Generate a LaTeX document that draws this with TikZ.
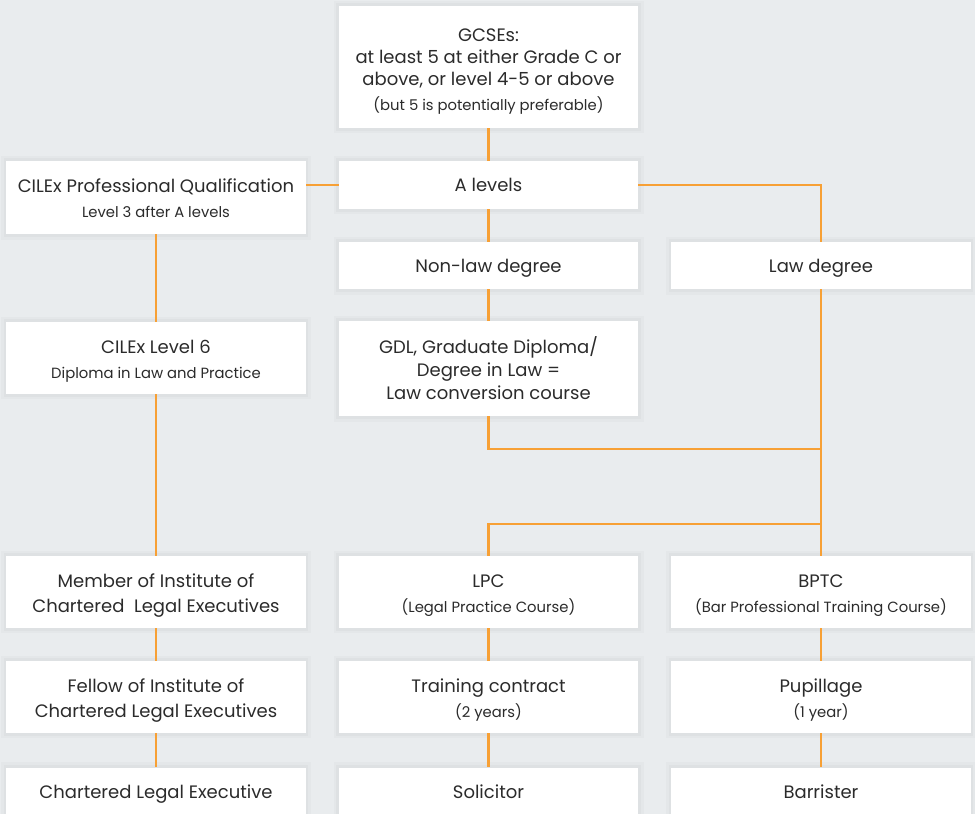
\documentclass[tikz,border=0pt]{standalone}
\usepackage{fontspec}
\setmainfont{Poppins}
\definecolor{bgc}{HTML}{E9ECEE}
\definecolor{org}{HTML}{F7A035}
\definecolor{txt}{HTML}{2B2B2B}
\newcommand{\tp}[1]{\rule{0pt}{#1pt}}
\newcommand{\bt}[1]{\rule[-#1pt]{0pt}{0pt}}
\newcommand{\sm}[1]{{\fontsize{11.1}{14}\selectfont #1}}
\tikzset{
  box/.style={rectangle, fill=white, text=txt, align=center, inner sep=0pt,
    minimum width=224.5pt,
    preaction={draw=black, draw opacity=0.02, line width=8pt},
    preaction={draw=black, draw opacity=0.025, line width=4pt},
    font=\fontsize{13.5}{18.75}\selectfont},
  one/.style={box, text height=12pt, text depth=2.2pt},
  conn/.style={draw=org, line width=1.9pt},
}
\begin{document}
\begin{tikzpicture}[x=0.75pt, y=-0.75pt]
\fill[bgc] (0,0) rectangle (975,814);
\useasboundingbox (0,0) rectangle (975,814);
\begin{scope}
\clip (0,0) rectangle (975,814);
% boxes
\node[box, minimum height=91.5pt, font=\fontsize{13.5}{16.5}\selectfont] (gcse) at (488.5,67) {\tp{17}GCSEs:\\at least 5 at either Grade C or\\above, or level 4-5 or above\\[2.25pt]\sm{(but 5 is potentially preferable)}\bt{3.5}};
\node[one, minimum height=36pt] (alev) at (488.5,185) {A levels};
\node[box, minimum height=55pt] (cilex) at (156,197.5) {\tp{15}CILEx Professional Qualification\\\sm{Level 3 after A levels}\bt{3.75}};
\node[one, minimum height=35.5pt] (nonlaw) at (488.5,265.5) {Non-law degree};
\node[one, minimum height=35.5pt] (law) at (821,265.5) {Law degree};
\node[box, minimum height=54pt] (lvl6) at (156,358) {\tp{15}CILEx Level 6\\\sm{Diploma in Law and Practice}\bt{3.75}};
\node[box, minimum height=71.5pt, font=\fontsize{13.5}{17.6}\selectfont] (gdl) at (488.5,368.5) {\tp{15}GDL, Graduate Diploma/\\Degree in Law =\\Law conversion course\bt{3}};
\node[box, minimum height=54pt] (member) at (156,592) {\tp{15}Member of Institute of\\Chartered\ \ Legal Executives\bt{3.75}};
\node[box, minimum height=54pt] (lpc) at (488.5,592) {\tp{15}LPC\\\sm{(Legal Practice Course)}\bt{3.75}};
\node[box, minimum height=54pt] (bptc) at (821,592) {\tp{15}BPTC\\\sm{(Bar Professional Training Course)}\bt{3.75}};
\node[box, minimum height=54pt] (fellow) at (156,697) {\tp{15}Fellow of Institute of\\Chartered Legal Executives\bt{3.75}};
\node[box, minimum height=54pt] (tc) at (488.5,697) {\tp{15}Training contract\\\sm{(2 years)}\bt{3.75}};
\node[box, minimum height=54pt] (pup) at (821,697) {\tp{15}Pupillage\\\sm{(1 year)}\bt{3.75}};
\node[one, minimum height=36pt] (cle) at (156,791.5) {Chartered Legal Executive};
\node[one, minimum height=36pt] (sol) at (488.5,791.5) {Solicitor};
\node[one, minimum height=36pt] (bar) at (821,791.5) {Barrister};
% junctions
\coordinate (j1) at (law.south |- 0,449);
\coordinate (j2) at (law.south |- 0,524);
% connectors
\draw[conn] (gcse.south) -- (alev.north);
\draw[conn] (alev.west) -- (alev.west -| cilex.east);
\draw[conn] (alev.east) -| (law.north);
\draw[conn] (alev.south) -- (nonlaw.north);
\draw[conn] (nonlaw.south) -- (gdl.north);
\draw[conn] (cilex.south) -- (lvl6.north);
\draw[conn] (lvl6.south) -- (member.north);
\draw[conn] (law.south) -- (bptc.north);
\draw[conn] (gdl.south) |- (j1);
\draw[conn] (j2) -| (lpc.north);
\draw[conn] (member.south) -- (fellow.north);
\draw[conn] (fellow.south) -- (cle.north);
\draw[conn] (lpc.south) -- (tc.north);
\draw[conn] (tc.south) -- (sol.north);
\draw[conn] (bptc.south) -- (pup.north);
\draw[conn] (pup.south) -- (bar.north);
\end{scope}
\end{tikzpicture}
\end{document}
